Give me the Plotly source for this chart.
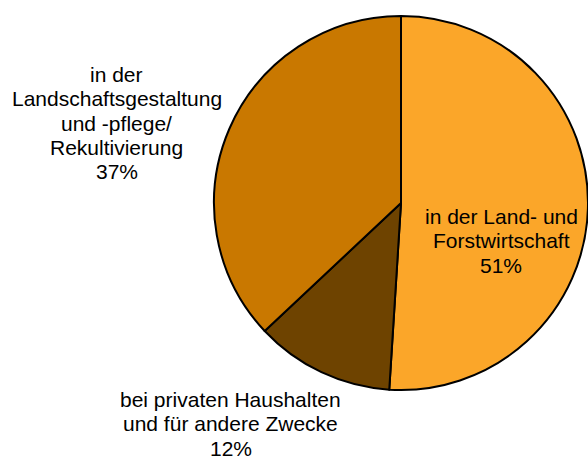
import plotly.graph_objects as go

labels = ["in der Land- und<br>Forstwirtschaft",
          "bei privaten Haushalten<br>und für andere Zwecke",
          "in der<br>Landschaftsgestaltung<br>und -pflege/<br>Rekultivierung"]
values = [51, 12, 37]
colors = ["#FBA629", "#6E4300", "#C97800"]

W, H = 588, 459
FS = 21
fig = go.Figure(go.Pie(
    labels=labels, values=values, sort=False, direction="clockwise", rotation=0,
    marker=dict(colors=colors, line=dict(color="black", width=2)),
    textinfo="none", hoverinfo="label+percent", showlegend=False,
    domain=dict(x=[214 / W, 1.0], y=[(H - 392) / H, (H - 14) / H]),
))

# label centre x and first-line baseline y (pixels), line spacing
label_pos = [(501, 224), (230.5, 407), (116.5, 82)]
LS = 24.2
for lab, val, (px, by) in zip(labels, values, label_pos):
    lines = lab.split("<br>") + [f"{val}%"]
    for i, ln in enumerate(lines):
        yb = by + i * LS
        ym = yb - 0.35 * FS
        fig.add_annotation(
            text=ln, x=px / W, y=1 - ym / H, xref="paper", yref="paper",
            showarrow=False, xanchor="center", yanchor="middle", align="center",
            font=dict(family="Liberation Sans, Arial, sans-serif", size=FS, color="black"),
        )

fig.update_layout(width=W, height=H, margin=dict(l=0, r=0, t=0, b=0),
                  paper_bgcolor="white", plot_bgcolor="white")
fig.write_html("out.html", config={"displayModeBar": False},
               post_script="document.body.style.margin='0';document.body.style.overflow='hidden';")
